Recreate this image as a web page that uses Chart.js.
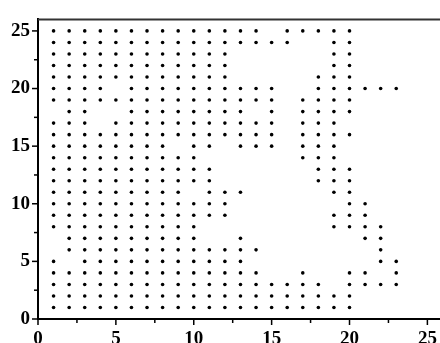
<!DOCTYPE html>
<html><head><meta charset="utf-8">
<script src="https://cdn.jsdelivr.net/npm/chart.js@4.4.1/dist/chart.umd.min.js"></script>
<style>html,body{margin:0;padding:0;overflow:hidden;background:#fff}canvas{display:block}</style>
</head><body>
<canvas id="c" width="446" height="343" style="width:446px;height:343px"></canvas>
<script>
// x positions of the points in each row (y = 25 down to 1)
const row25 = [1,2,3,4,5,6,7,8,9,10,11,12,13,14,16,17,18,19,20];
const row24 = [1,2,3,4,5,6,7,8,9,10,11,12,13,14,15,16,19,20];
const row23 = [1,2,3,4,5,6,7,8,9,10,11,12,19,20];
const row22 = [1,2,3,4,5,6,7,8,9,10,11,12,19,20];
const row21 = [1,2,3,4,5,6,7,8,9,10,11,12,18,19,20];
const row20 = [1,2,3,4,6,7,8,9,10,11,12,13,14,15,18,19,20,21,22,23];
const row19 = [1,2,3,4,5,6,7,8,9,10,11,12,13,14,15,17,18,19,20];
const row18 = [2,3,6,7,8,9,10,11,12,13,15,17,18,19,20];
const row17 = [1,2,3,5,6,7,8,9,10,11,12,13,14,15,17,18,19];
const row16 = [1,2,3,4,5,6,7,8,9,10,11,12,13,14,15,17,18,19,20];
const row15 = [1,2,3,4,5,6,7,8,10,11,13,14,15,17,18,19];
const row14 = [1,2,3,4,5,6,7,8,9,10,17,18,19];
const row13 = [1,2,3,4,5,6,7,8,9,10,11,18,19,20];
const row12 = [1,2,3,4,5,6,7,8,9,10,11,18,19,20];
const row11 = [1,2,3,4,5,6,7,8,9,11,12,13,19,20];
const row10 = [1,2,3,4,5,6,7,8,9,10,11,12,20,21];
const row9  = [1,2,3,4,5,6,7,8,9,10,11,12,19,20,21];
const row8  = [1,2,3,4,5,6,7,8,9,10,19,20,21,22];
const row7  = [2,3,4,5,6,7,8,9,10,13,21,22];
const row6  = [2,3,4,5,6,7,8,9,10,11,12,13,14,22];
const row5  = [1,3,4,5,6,7,8,9,10,11,12,13,22,23];
const row4  = [1,2,3,4,5,6,7,8,9,10,11,12,13,14,17,20,21,23];
const row3  = [1,2,3,4,5,6,7,8,9,10,11,12,13,14,15,16,17,18,20,21,22,23];
const row2  = [1,2,3,4,5,6,7,8,9,10,11,12,13,14,15,16,17,18,19,20];
const row1  = [1,2,3,4,5,6,7,8,9,10,11,12,13,14,15,16,17,18,19,20];
const rowY = [25,24,23,22,21,20,19,18,17,16,15,14,13,12,11,10,9,8,7,6,5,4,3,2,1];
const rowX = [row25,row24,row23,row22,row21,row20,row19,row18,row17,row16,row15,row14,row13,row12,row11,row10,row9,row8,row7,row6,row5,row4,row3,row2,row1];
const xTickValues = [0,2.5,5,7.5,10,12.5,15,17.5,20,22.5,25];
const yTickValues = [0,2.5,5,7.5,10,12.5,15,17.5,20,22.5,25];

const points = [];
rowY.forEach((y,i)=>rowX[i].forEach(x=>points.push({x:x,y:y})));

const font = {family:'"Liberation Serif", "Times New Roman", serif', size:19, weight:'bold'};

const tickPlugin = {
  id:'tickMarks',
  afterDraw(chart){
    const ctx = chart.ctx, a = chart.chartArea, xs = chart.scales.x, ys = chart.scales.y;
    ctx.save();
    ctx.strokeStyle = '#000';
    ctx.lineWidth = 1.5;
    xs.ticks.forEach(t=>{
      const px = xs.getPixelForValue(t.value);
      const len = (t.value % 5 === 0) ? 6 : 4;
      ctx.beginPath(); ctx.moveTo(px, a.bottom); ctx.lineTo(px, a.bottom + len); ctx.stroke();
    });
    ys.ticks.forEach(t=>{
      const py = ys.getPixelForValue(t.value);
      const len = (t.value % 5 === 0) ? 6 : 4;
      ctx.beginPath(); ctx.moveTo(a.left, py); ctx.lineTo(a.left - len, py); ctx.stroke();
    });
    ctx.strokeStyle = '#333';
    ctx.lineWidth = 2;
    ctx.beginPath(); ctx.moveTo(a.left, a.top); ctx.lineTo(a.right, a.top); ctx.stroke();
    ctx.restore();
  }
};

new Chart(document.getElementById('c'), {
  type:'scatter',
  data:{datasets:[{data:points, backgroundColor:'#000', borderColor:'#000', borderWidth:0, pointRadius:1.8, pointHoverRadius:1.8}]},
  options:{
    responsive:false, animation:false,
    layout:{padding:{top:12,right:3,left:0,bottom:0}},
    plugins:{legend:{display:false}, tooltip:{enabled:false}},
    scales:{
      x:{type:'linear', min:0, max:26,
        afterBuildTicks:s=>{s.ticks = xTickValues.map(v=>({value:v}));},
        afterFit:s=>{s.height = 24;},
        grid:{display:true, drawOnChartArea:false, drawTicks:false, color:'rgba(0,0,0,0)'},
        border:{display:true, color:'#000', width:2},
        ticks:{autoSkip:false, maxRotation:0, padding:9, color:'#000', font:font,
          callback:v=> (v % 5 === 0) ? String(v) : ''}
      },
      y:{type:'linear', min:0, max:26,
        afterBuildTicks:s=>{s.ticks = yTickValues.map(v=>({value:v}));},
        afterFit:s=>{s.width = 38;},
        grid:{display:true, drawOnChartArea:false, drawTicks:false, color:'rgba(0,0,0,0)'},
        border:{display:true, color:'#000', width:2},
        ticks:{autoSkip:false, padding:8, color:'#000', font:font,
          callback:v=> (v % 5 === 0) ? String(v) : ''}
      }
    }
  },
  plugins:[tickPlugin]
});
</script>
</body></html>
